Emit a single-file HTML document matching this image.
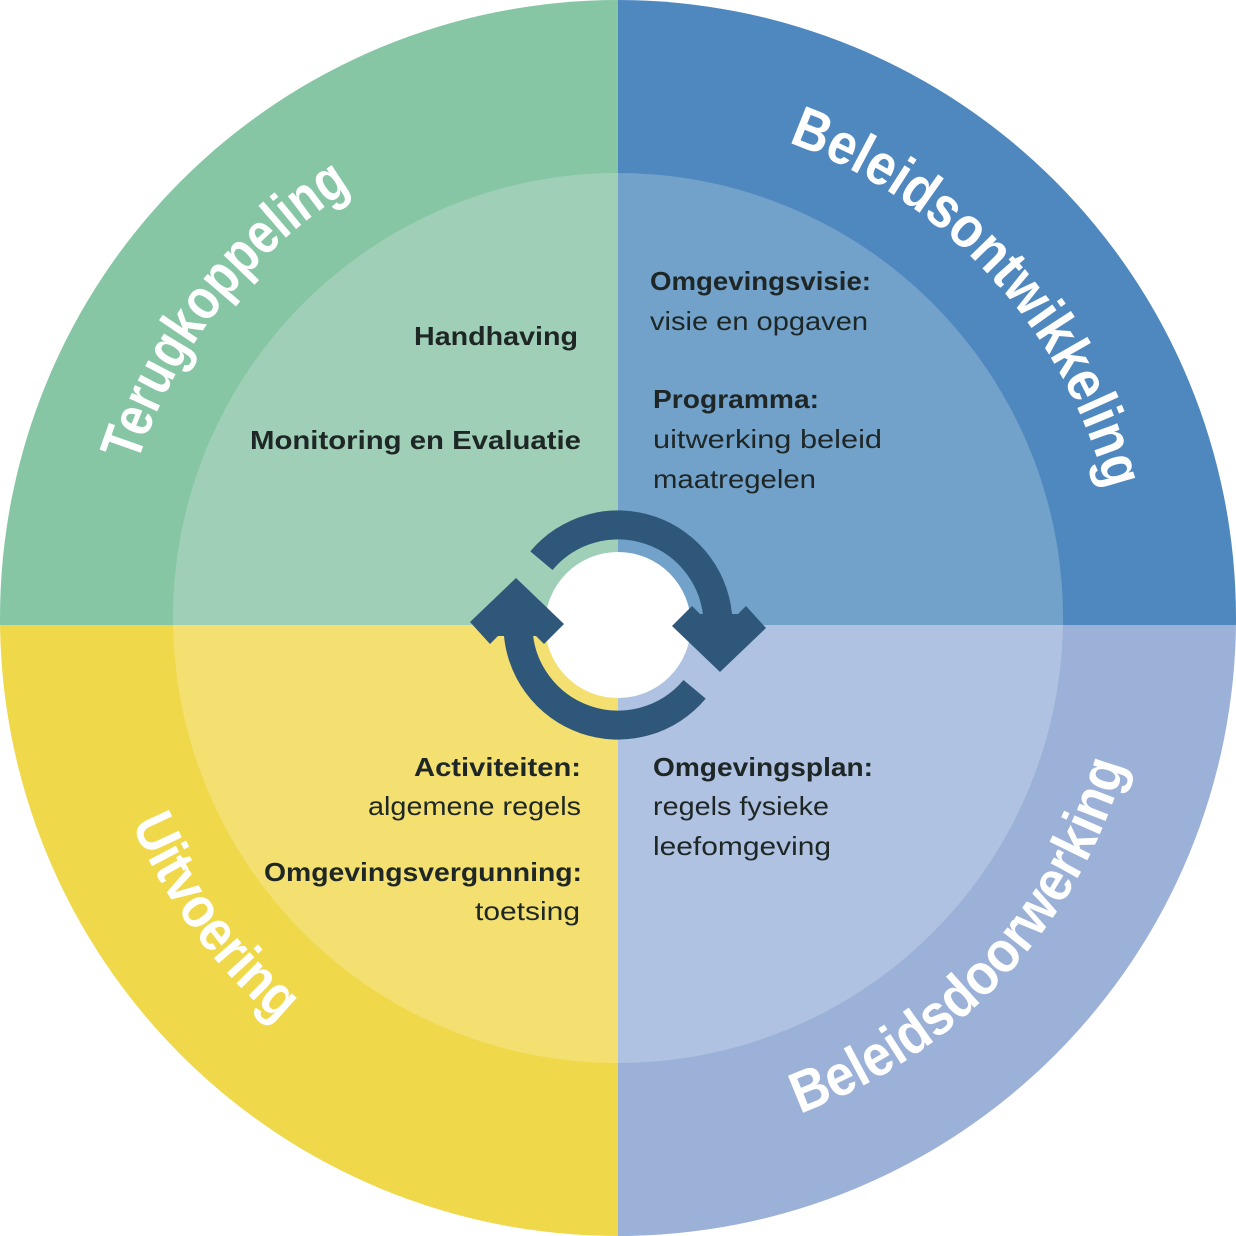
<!DOCTYPE html>
<html><head><meta charset="utf-8"><style>
html,body{margin:0;padding:0;background:#fff}
svg{display:block}
.t{font-family:"Liberation Sans",sans-serif;fill:#1e2626;font-size:26px}
.b{font-weight:bold}
.o{font-family:"Liberation Sans",sans-serif;fill:#fff;font-size:58px;font-weight:bold}
</style></head><body>
<svg width="1236" height="1236" viewBox="0 0 1236 1236" xmlns="http://www.w3.org/2000/svg">
<defs>
<clipPath id="tl"><rect x="0" y="0" width="618" height="625"/></clipPath>
<clipPath id="tr"><rect x="618" y="0" width="618" height="625"/></clipPath>
<clipPath id="bl"><rect x="0" y="625" width="618" height="611"/></clipPath>
<clipPath id="br"><rect x="618" y="625" width="618" height="611"/></clipPath>
<path id="p1" d="M137.7,462 A505,505 0 0 1 350.4,189.8"/>
<path id="p2" d="M790.7,143.4 A505,505 0 0 1 1105.8,487.3"/>
<path id="p3" d="M132,824.3 A528,528 0 0 0 278.6,1022.5"/>
<path id="p4" d="M798.6,1114.2 A528,528 0 0 0 1125.6,763.5"/>
</defs>
<g clip-path="url(#tl)"><circle cx="618" cy="618" r="618" fill="#86c6a5"/><circle cx="618" cy="618" r="445" fill="#9fd0b7"/></g>
<g clip-path="url(#tr)"><circle cx="618" cy="618" r="618" fill="#4f88bf"/><circle cx="618" cy="618" r="445" fill="#72a2ca"/></g>
<g clip-path="url(#bl)"><circle cx="618" cy="618" r="618" fill="#f0d84b"/><circle cx="618" cy="618" r="445" fill="#f3e070"/></g>
<g clip-path="url(#br)"><circle cx="618" cy="618" r="618" fill="#9bb1d8"/><circle cx="618" cy="618" r="445" fill="#b0c2e1"/></g>

<text class="o"><textPath href="#p1" startOffset="50%" text-anchor="middle" textLength="355" lengthAdjust="spacingAndGlyphs">Terugkoppeling</textPath></text>
<text class="o"><textPath href="#p2" startOffset="50%" text-anchor="middle" textLength="490" lengthAdjust="spacingAndGlyphs">Beleidsontwikkeling</textPath></text>
<text class="o"><textPath href="#p3" startOffset="50%" text-anchor="middle" textLength="250" lengthAdjust="spacingAndGlyphs">Uitvoering</textPath></text>
<text class="o"><textPath href="#p4" startOffset="50%" text-anchor="middle" textLength="495" lengthAdjust="spacingAndGlyphs">Beleidsdoorwerking</textPath></text>

<circle cx="618" cy="625" r="73" fill="#fff"/>
<g fill="none" stroke="#2f5779" stroke-width="29">
<path d="M541.4,560.7 A100,100 0 0 1 718,622"/>
<path d="M694.6,689.3 A100,100 0 0 1 518,628"/>
</g>
<g fill="#2f5779">
<polygon points="672,626 692,606 700,614 738,614 746,606 766,628 720,672"/>
<polygon points="564,624 544,644 536,636 498,636 490,644 470,622 516,578"/>
</g>

<text class="t b" x="578" y="345" text-anchor="end" textLength="164" lengthAdjust="spacingAndGlyphs">Handhaving</text>
<text class="t" x="581" y="449" text-anchor="end" textLength="331" lengthAdjust="spacingAndGlyphs" style="font-weight:600">Monitoring en Evaluatie</text>

<text class="t b" x="650" y="290" textLength="221" lengthAdjust="spacingAndGlyphs">Omgevingsvisie:</text>
<text class="t" x="650" y="330" textLength="218" lengthAdjust="spacingAndGlyphs">visie en opgaven</text>
<text class="t b" x="653" y="408" textLength="166" lengthAdjust="spacingAndGlyphs">Programma:</text>
<text class="t" x="653" y="448" textLength="229" lengthAdjust="spacingAndGlyphs">uitwerking beleid</text>
<text class="t" x="653" y="488" textLength="163" lengthAdjust="spacingAndGlyphs">maatregelen</text>

<text class="t b" x="581" y="776" text-anchor="end" textLength="167" lengthAdjust="spacingAndGlyphs">Activiteiten:</text>
<text class="t" x="581" y="815" text-anchor="end" textLength="213" lengthAdjust="spacingAndGlyphs">algemene regels</text>
<text class="t b" x="582" y="881" text-anchor="end" textLength="318" lengthAdjust="spacingAndGlyphs">Omgevingsvergunning:</text>
<text class="t" x="580" y="920" text-anchor="end" textLength="105" lengthAdjust="spacingAndGlyphs">toetsing</text>

<text class="t b" x="653" y="776" textLength="220" lengthAdjust="spacingAndGlyphs">Omgevingsplan:</text>
<text class="t" x="653" y="815" textLength="176" lengthAdjust="spacingAndGlyphs">regels fysieke</text>
<text class="t" x="653" y="855" textLength="178" lengthAdjust="spacingAndGlyphs">leefomgeving</text>
</svg>
</body></html>
